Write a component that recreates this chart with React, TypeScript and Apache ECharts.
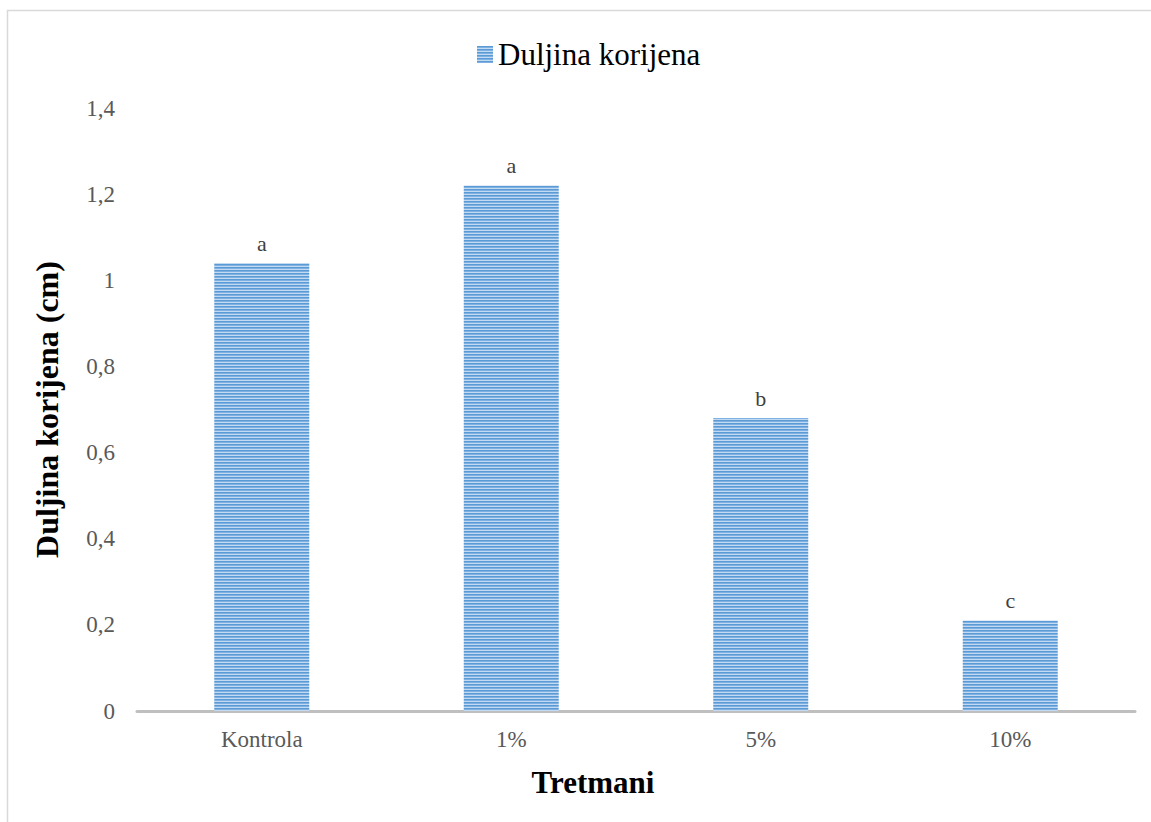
import React, { useEffect, useRef } from "react";
import * as echarts from "echarts";

const categories = ["Kontrola", "1%", "5%", "10%"];
const values = [1.04, 1.22, 0.68, 0.21];
const letters = ["a", "a", "b", "c"];
const seriesName = "Duljina korijena";
const yTitle = "Duljina korijena (cm)";
const xTitle = "Tretmani";

const FONT = "Liberation Serif";

function makePattern(): string {
  const c = document.createElement("canvas");
  c.width = 4;
  c.height = 3;
  const ctx = c.getContext("2d")!;
  const rows = ["#5b9bd5", "#7eb0e1", "#c4daf2"];
  rows.forEach((col, i) => {
    ctx.fillStyle = col;
    ctx.fillRect(0, i, 4, 1);
  });
  return c.toDataURL();
}

export default function App() {
  const ref = useRef<HTMLDivElement>(null);
  useEffect(() => {
    document.body.style.margin = "0";
    if (!ref.current) return;
    const chart = echarts.init(ref.current, undefined, { renderer: "svg" });
    const pattern = { image: makePattern(), repeat: "repeat" as const };
    chart.setOption({
      animation: false,
      backgroundColor: "#ffffff",
      textStyle: { fontFamily: FONT },
      graphic: [
        {
          type: "rect",
          shape: { x: 7.5, y: 10.5, width: 1200, height: 900 },
          style: { fill: "none", stroke: "#d9d9d9", lineWidth: 1.5 },
          silent: true,
        },
      ],
      legend: {
        left: 472,
        top: 34,
        itemWidth: 16,
        itemHeight: 17,
        icon: "rect",
        textStyle: { fontFamily: FONT, fontSize: 31, color: "#000000", padding: [0, 0, 0, 0] },
        data: [seriesName],
      },
      grid: { left: 137, right: 16, top: 108, bottom: 111, containLabel: false },
      xAxis: {
        type: "category",
        data: categories,
        name: xTitle,
        nameLocation: "middle",
        nameGap: 56,
        nameTextStyle: {
          fontFamily: FONT,
          fontSize: 31,
          fontWeight: "bold",
          color: "#000000",
          padding: [0, 86, 0, 0],
        },
        axisLine: { show: true, lineStyle: { color: "#bfbfbf", width: 3 } },
        axisTick: { show: false },
        axisLabel: { fontFamily: FONT, fontSize: 23, color: "#595959", margin: 17 },
        splitLine: { show: false },
      },
      yAxis: {
        type: "value",
        min: 0,
        max: 1.4,
        interval: 0.2,
        name: yTitle,
        nameLocation: "middle",
        nameGap: 74,
        nameTextStyle: { fontFamily: FONT, fontSize: 32, fontWeight: "bold", color: "#000000" },
        axisLine: { show: false },
        axisTick: { show: false },
        splitLine: { show: false },
        axisLabel: {
          fontFamily: FONT,
          fontSize: 23,
          color: "#595959",
          margin: 22,
          formatter: (v: number) => String(Math.round(v * 10) / 10).replace(".", ","),
        },
      },
      series: [
        {
          name: seriesName,
          type: "bar",
          data: values,
          barWidth: 95,
          itemStyle: { color: pattern },
          label: {
            show: true,
            position: "top",
            distance: 9,
            fontFamily: FONT,
            fontSize: 22,
            color: "#404040",
            formatter: (p: any) => letters[p.dataIndex],
          },
        },
      ],
    });
    return () => chart.dispose();
  }, []);
  return <div ref={ref} style={{ width: 1151, height: 822 }} />;
}
